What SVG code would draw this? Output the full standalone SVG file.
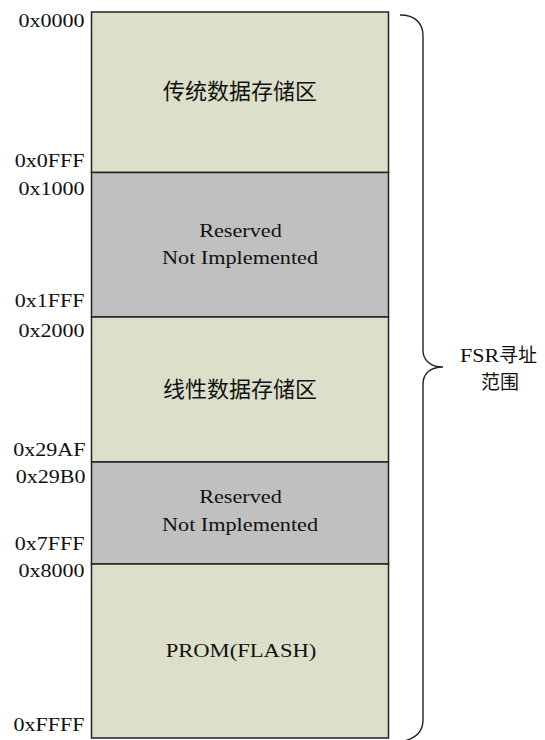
<svg xmlns="http://www.w3.org/2000/svg" width="545" height="740" viewBox="0 0 545 740">
<style>
.green{fill:#DCE0CA;stroke:#222;stroke-width:1.5}
.gray{fill:#C0C0C0;stroke:#222;stroke-width:1.5}
text{font-family:"Liberation Serif","Noto Sans CJK SC",serif;fill:#111}
.addr{font-size:19px;text-anchor:end}
.lbl{font-size:19px;text-anchor:middle}
.cjk{font-size:22px;text-anchor:middle}
.brace{fill:none;stroke:#222;stroke-width:1.4}
</style>
<rect x="0" y="0" width="545" height="740" fill="#fff"/>
<g id="seg-legacy">
<rect class="green" x="91.5" y="12" width="297" height="160.5"/>
<text class="cjk" x="240" y="99">传统数据存储区</text>
</g>
<g id="seg-reserved1">
<rect class="gray" x="91.5" y="172.5" width="297" height="144.5"/>
<text class="lbl" transform="translate(240.5,237) scale(1.17,1)">Reserved</text>
<text class="lbl" transform="translate(240,264) scale(1.17,1)">Not Implemented</text>
</g>
<g id="seg-linear">
<rect class="green" x="91.5" y="317" width="297" height="145"/>
<text class="cjk" x="240" y="397">线性数据存储区</text>
</g>
<g id="seg-reserved2">
<rect class="gray" x="91.5" y="462" width="297" height="102"/>
<text class="lbl" transform="translate(240.5,503) scale(1.17,1)">Reserved</text>
<text class="lbl" transform="translate(240,531) scale(1.17,1)">Not Implemented</text>
</g>
<g id="seg-prom">
<rect class="green" x="91.5" y="564" width="297" height="174"/>
<text class="lbl" transform="translate(241,657) scale(1.19,1)">PROM(FLASH)</text>
</g>
<g id="addresses">
<text class="addr" transform="translate(84.5,26.5) scale(1.16,1)">0x0000</text>
<text class="addr" transform="translate(84.5,166.5) scale(1.16,1)">0x0FFF</text>
<text class="addr" transform="translate(84.5,194.5) scale(1.16,1)">0x1000</text>
<text class="addr" transform="translate(84.5,306.5) scale(1.16,1)">0x1FFF</text>
<text class="addr" transform="translate(84.5,336.5) scale(1.16,1)">0x2000</text>
<text class="addr" transform="translate(85.5,455.5) scale(1.16,1)">0x29AF</text>
<text class="addr" transform="translate(85.5,482.5) scale(1.16,1)">0x29B0</text>
<text class="addr" transform="translate(84.5,549.5) scale(1.16,1)">0x7FFF</text>
<text class="addr" transform="translate(84.5,576.5) scale(1.16,1)">0x8000</text>
<text class="addr" transform="translate(84.5,730.5) scale(1.16,1)">0xFFFF</text>
</g>
<g id="connectors">
<path class="brace" d="M400,15 C415,15 423,23 423,36 L423,350 C423,360 430,367 443,367 C430,367 423,374 423,384 L423,720 C423,731 416,738 404,741"/>
</g>
<g id="fsr-label">
<text transform="translate(460,362) scale(1.16,1)" style="font-size:19px">FSR</text>
<text x="499" y="362" style="font-size:19px">寻址</text>
<text x="500" y="389" style="font-size:19px;text-anchor:middle">范围</text>
</g>
</svg>
